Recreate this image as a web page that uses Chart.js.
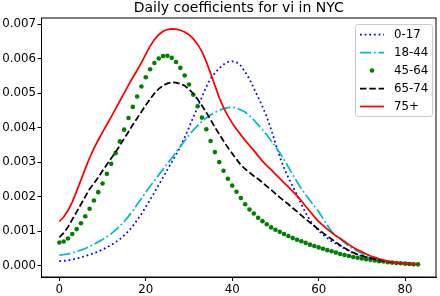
<!DOCTYPE html>
<html><head><meta charset="utf-8">
<script src="https://cdn.jsdelivr.net/npm/chart.js@4"></script>
<style>html,body{margin:0;padding:0;background:#fff;}#wrap{width:440px;height:296px;}</style>
</head><body><div id="wrap"><canvas id="c" width="440" height="296"></canvas></div>
<script>
const chartTitle = 'Daily coefficients for vi in NYC';
const days = [0,1,2,3,4,5,6,7,8,9,10,11,12,13,14,15,16,17,18,19,20,21,22,23,24,25,26,27,28,29,30,31,32,33,34,35,36,37,38,39,40,41,42,43,44,45,46,47,48,49,50,51,52,53,54,55,56,57,58,59,60,61,62,63,64,65,66,67,68,69,70,71,72,73,74,75,76,77,78,79,80,81,82,83];
const xTickValues = [0,20,40,60,80];
const yTickValues = [0,0.001,0.002,0.003,0.004,0.005,0.006,0.007];
const seriesLabels = ['0-17','18-44','45-64','65-74','75+'];

const age0_17 = [0.00013,0.00014,0.00016,0.00018,0.00021,0.00024,0.00028,0.00032,0.00036,0.00041,
0.00047,0.00053,0.0006,0.00068,0.00077,0.00088,0.001,0.00115,0.00132,0.0015,
0.0017,0.00191,0.00212,0.00234,0.00256,0.00278,0.003,0.00322,0.00344,0.00372,
0.004,0.0043,0.00459,0.00489,0.00518,0.00542,0.00558,0.00572,0.00583,0.0059,
0.00592,0.00589,0.00579,0.00561,0.0054,0.00514,0.00488,0.00461,0.00431,0.00395,
0.00355,0.00316,0.00283,0.00255,0.0023,0.00205,0.00178,0.00153,0.00132,0.00115,
0.00101,0.0009,0.0008,0.00071,0.00064,0.00057,0.0005,0.00043,0.00037,0.00032,
0.00028,0.00025,0.00022,0.00019,0.00016,0.00013,0.00011,0.0001,0.00008,0.00007,
0.00006,0.00005,0.00005,0.00004];

const age18_44 = [0.00031,0.00032,0.00034,0.00037,0.00041,0.00045,0.0005,0.00056,0.00062,0.00069,
0.00076,0.00084,0.00093,0.00103,0.00115,0.00128,0.00143,0.00159,0.00177,0.00195,
0.00213,0.0023,0.00246,0.00263,0.00279,0.00296,0.00312,0.00329,0.00345,0.00362,
0.00378,0.00393,0.00406,0.00418,0.00428,0.00437,0.00444,0.0045,0.00455,0.00458,
0.00459,0.00457,0.00451,0.00445,0.00435,0.00422,0.00408,0.00394,0.00379,0.00362,
0.00345,0.00327,0.00307,0.00286,0.00264,0.00243,0.00223,0.00206,0.00189,0.00172,
0.00157,0.00137,0.00117,0.00099,0.00087,0.00077,0.00067,0.00057,0.00049,0.00042,
0.00036,0.0003,0.00025,0.00021,0.00017,0.00014,0.00012,0.0001,0.00009,0.00008,
0.00007,0.00006,0.00005,0.00005];

const age45_64 = [0.00067,0.0007,0.00079,0.00092,0.00106,0.00123,0.00143,0.00165,0.00189,0.00213,
0.00238,0.00266,0.00295,0.00326,0.0036,0.00394,0.00428,0.0046,0.0049,0.00519,
0.00546,0.00569,0.00587,0.006,0.00607,0.00608,0.00602,0.0059,0.00573,0.00551,
0.00525,0.00495,0.00462,0.00429,0.00395,0.00361,0.00329,0.003,0.00275,0.00252,
0.00232,0.00214,0.00196,0.00178,0.00163,0.00151,0.00139,0.00129,0.0012,0.00111,
0.00104,0.00098,0.00092,0.00086,0.0008,0.00075,0.00071,0.00066,0.00061,0.00057,
0.00053,0.00049,0.00045,0.00042,0.00038,0.00034,0.00031,0.00028,0.00025,0.00023,
0.00021,0.00019,0.00017,0.00015,0.00013,0.00012,0.0001,0.00009,0.00008,0.00007,
0.00006,0.00005,0.00004,0.00004];

const age65_74 = [0.00082,0.00095,0.00112,0.00134,0.00156,0.00178,0.002,0.00222,0.00238,0.00256,
0.00275,0.00293,0.00311,0.00329,0.00348,0.00368,0.00388,0.00408,0.00427,0.00446,
0.00465,0.00483,0.00499,0.00512,0.00522,0.00528,0.00531,0.0053,0.00527,0.00521,
0.00511,0.00498,0.00482,0.00464,0.00444,0.00423,0.00401,0.00381,0.00361,0.00342,
0.00325,0.00308,0.00292,0.0028,0.0027,0.0026,0.00251,0.00241,0.0023,0.0022,
0.00209,0.00198,0.00188,0.00178,0.00167,0.00157,0.00146,0.00135,0.00125,0.00115,
0.00105,0.00095,0.00086,0.00077,0.00068,0.00059,0.00051,0.00044,0.00038,0.00033,
0.00029,0.00025,0.00022,0.00019,0.00016,0.00014,0.00012,0.0001,0.00009,0.00008,
0.00007,0.00006,0.00006,0.00005];

const age75plus = [0.00128,0.00141,0.0016,0.00185,0.00216,0.00248,0.00281,0.00312,0.0034,0.00364,
0.00387,0.00409,0.00431,0.00454,0.00477,0.005,0.00523,0.00545,0.00566,0.00588,
0.00612,0.00636,0.00655,0.00669,0.00679,0.00684,0.00686,0.00685,0.00682,0.00677,
0.00669,0.00657,0.00641,0.0062,0.00591,0.00557,0.00522,0.00487,0.00458,0.00434,
0.00413,0.00395,0.00379,0.00363,0.00348,0.00334,0.00318,0.00303,0.0029,0.00278,
0.00265,0.00253,0.0024,0.00228,0.00215,0.00202,0.00188,0.00172,0.00157,0.00142,
0.00128,0.00117,0.00106,0.00096,0.00087,0.00079,0.0007,0.00061,0.00053,0.00046,
0.0004,0.00034,0.00028,0.00024,0.0002,0.00016,0.00013,0.00011,0.00009,0.00008,
0.00007,0.00006,0.00005,0.00005];

const FONT = 'DejaVu Sans';
const LW = 1.75;
const pts = arr => days.map((d, i) => ({x: d, y: arr[i]}));

const datasets = [
  {label: seriesLabels[0], data: pts(age0_17), borderColor: '#0000ff', borderWidth: LW,
   borderDash: [1.75, 2.9], borderCapStyle: 'butt', pointRadius: 0, showLine: true, order: 4},
  {label: seriesLabels[1], data: pts(age18_44), borderColor: '#00bfbf', borderWidth: LW,
   borderDash: [11.2, 2.8, 1.75, 2.8], borderCapStyle: 'butt', pointRadius: 0, showLine: true, order: 3},
  {label: seriesLabels[2], data: pts(age45_64), borderColor: '#008000', showLine: false,
   pointRadius: 2.3, pointBackgroundColor: '#008000', pointBorderWidth: 0, pointBorderColor: '#008000', order: 2},
  {label: seriesLabels[3], data: pts(age65_74), borderColor: '#000000', borderWidth: LW,
   borderDash: [6.5, 2.8], borderCapStyle: 'butt', pointRadius: 0, showLine: true, order: 1},
  {label: seriesLabels[4], data: pts(age75plus), borderColor: '#ff0000', borderWidth: LW,
   pointRadius: 0, showLine: true, order: 0}
];

const framePlugin = {
  id: 'frame',
  afterDatasetsDraw(chart) {
    const {ctx, chartArea: a} = chart;
    ctx.save();
    ctx.strokeStyle = '#000';
    ctx.lineWidth = 1;
    ctx.strokeRect(a.left, a.top, a.right - a.left, a.bottom - a.top);
    ctx.restore();
  }
};

const legendPlugin = {
  id: 'mplLegend',
  afterDraw(chart) {
    const ctx = chart.ctx;
    const bx = 355.5, by = 24.5, bw = 77, bh = 92, r = 2.5;
    ctx.save();
    ctx.beginPath();
    ctx.moveTo(bx + r, by);
    ctx.arcTo(bx + bw, by, bx + bw, by + bh, r);
    ctx.arcTo(bx + bw, by + bh, bx, by + bh, r);
    ctx.arcTo(bx, by + bh, bx, by, r);
    ctx.arcTo(bx, by, bx + bw, by, r);
    ctx.closePath();
    ctx.fillStyle = 'rgba(255,255,255,0.8)';
    ctx.fill();
    ctx.strokeStyle = '#cccccc';
    ctx.lineWidth = 1;
    ctx.stroke();
    ctx.font = '11.8px "' + FONT + '"';
    ctx.textBaseline = 'middle';
    ctx.textAlign = 'left';
    chart.data.datasets.forEach((ds, i) => {
      const yy = 34.5 + i * 18;
      if (ds.showLine === false) {
        ctx.beginPath();
        ctx.fillStyle = ds.pointBackgroundColor;
        ctx.arc(372, yy, ds.pointRadius, 0, Math.PI * 2);
        ctx.fill();
      } else {
        ctx.beginPath();
        ctx.setLineDash(ds.borderDash || []);
        ctx.lineCap = 'butt';
        ctx.strokeStyle = ds.borderColor;
        ctx.lineWidth = ds.borderWidth;
        ctx.moveTo(360, yy);
        ctx.lineTo(384, yy);
        ctx.stroke();
        ctx.setLineDash([]);
      }
      ctx.fillStyle = '#000';
      ctx.fillText(ds.label, 394, yy + 0.5);
    });
    ctx.restore();
  }
};

new Chart(document.getElementById('c'), {
  type: 'line',
  data: {datasets},
  options: {
    responsive: false,
    animation: false,
    events: [],
    layout: {padding: {left: 0, right: 0.5, top: 0, bottom: 0}},
    plugins: {
      legend: {display: false},
      tooltip: {enabled: false},
      title: {display: true, text: chartTitle, color: '#000', fullSize: false,
        font: {family: FONT, size: 14, weight: 'normal', lineHeight: 1.2},
        padding: {top: 0, bottom: 1.2}}
    },
    scales: {
      x: {
        type: 'linear', min: -4.13, max: 87.16,
        afterBuildTicks: s => { s.ticks = xTickValues.map(v => ({value: v})); },
        afterFit: s => { s.height = 19; },
        ticks: {autoSkip: false, maxRotation: 0, color: '#000', padding: 2,
          font: {family: FONT, size: 11.8}, callback: v => String(v)},
        grid: {drawOnChartArea: false, drawTicks: true, tickLength: 4, color: '#000', tickWidth: 1},
        border: {display: true, color: '#000', width: 1}
      },
      y: {
        type: 'linear', min: -0.000327, max: 0.007174,
        afterBuildTicks: s => { s.ticks = yTickValues.map(v => ({value: v})); },
        afterFit: s => { s.width = 41.5; },
        ticks: {autoSkip: false, color: '#000', padding: 1.5,
          font: {family: FONT, size: 11.8}, callback: v => Number(v).toFixed(3)},
        grid: {drawOnChartArea: false, drawTicks: true, tickLength: 4, color: '#000', tickWidth: 1},
        border: {display: true, color: '#000', width: 1}
      }
    }
  },
  plugins: [framePlugin, legendPlugin]
});
</script>
</body></html>
